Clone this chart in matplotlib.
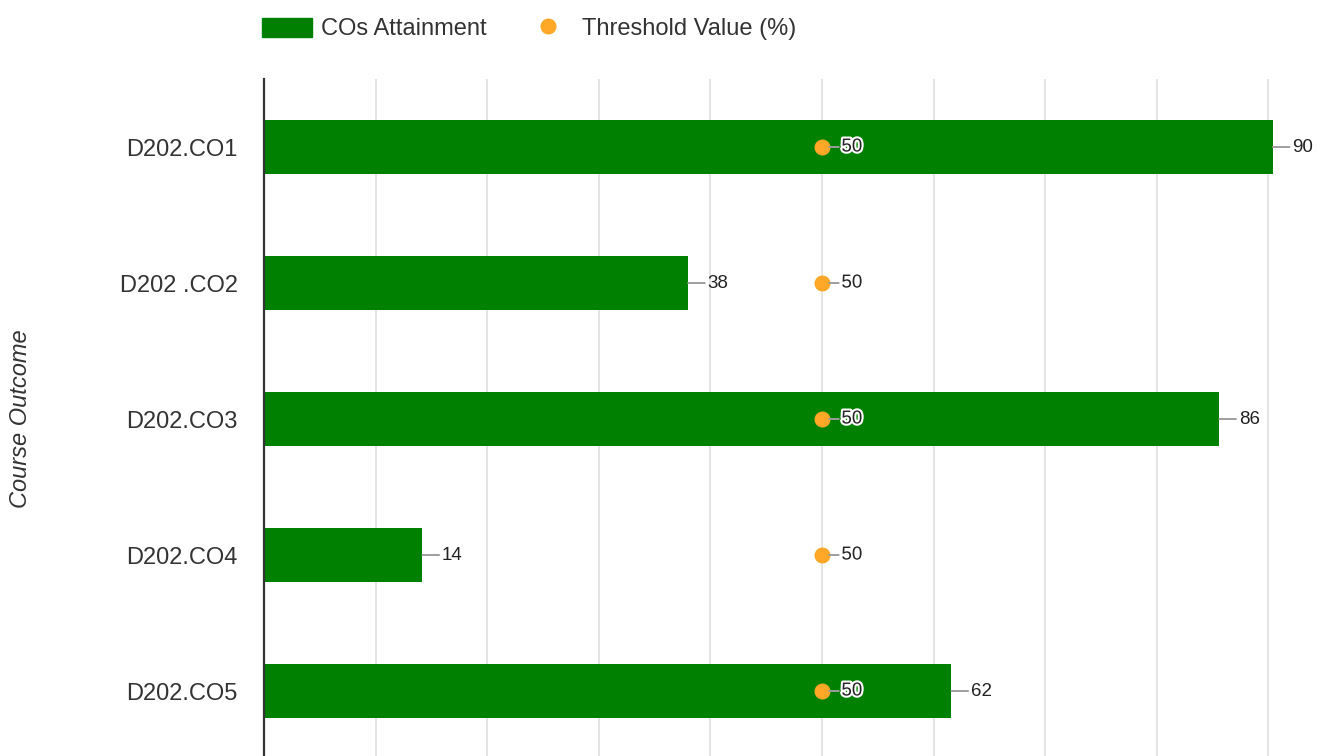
"""Horizontal bar chart of CO attainment against a threshold value."""

import matplotlib

matplotlib.use("Agg")
import matplotlib.pyplot as plt
import matplotlib.patheffects as pe
from matplotlib.lines import Line2D
from matplotlib.patches import Patch

categories = ["D202.CO1", "D202 .CO2", "D202.CO3", "D202.CO4", "D202.CO5"]
attainment = [90.4, 38.0, 85.6, 14.2, 61.6]
threshold = [50, 50, 50, 50, 50]
grid_ticks = [0, 10, 20, 30, 40, 50, 60, 70, 80, 90]

GREEN = "#008000"
ORANGE = "#ffa726"
LEADER = "#9e9e9e"

plt.rcParams["font.family"] = ["Liberation Sans", "DejaVu Sans"]


def main() -> None:
    W, H = 1318, 756
    fig = plt.figure(figsize=(W / 100, H / 100), dpi=100)
    ax = fig.add_axes([264 / W, (H - 759) / H, (W - 264) / W, 680 / H])

    y = list(range(len(categories)))
    ax.barh(y, attainment, height=0.40, color=GREEN, zorder=2)
    ax.plot(threshold, y, linestyle="none", marker="o", markersize=10.5,
            color=ORANGE, zorder=4)

    halo = [pe.withStroke(linewidth=3, foreground="white")]
    for i, (v, t) in enumerate(zip(attainment, threshold)):
        ax.annotate(f"{v:.0f}", xy=(v, i), xytext=(14, 0), textcoords="offset points",
                    ha="left", va="center", fontsize=13.5, color="#222222",
                    annotation_clip=False,
                    arrowprops=dict(arrowstyle="-", color=LEADER, lw=1.4,
                                    shrinkA=0, shrinkB=0, relpos=(0, 0.5)))
        ax.annotate(f"{t}", xy=(t, i), xytext=(14, 0), textcoords="offset points",
                    ha="left", va="center", fontsize=13.5, color="#222222",
                    path_effects=halo, zorder=5,
                    arrowprops=dict(arrowstyle="-", color=LEADER, lw=1.4,
                                    shrinkA=0, shrinkB=5, relpos=(0, 0.5)))

    ax.set_xlim(0, (W - 264) / 11.16)
    ax.set_ylim(len(categories) - 0.5, -0.5)
    ax.set_xticks(grid_ticks)
    ax.set_xticklabels([])
    ax.tick_params(axis="x", length=0)
    ax.set_yticks(y)
    ax.set_yticklabels(categories, fontsize=17, color="#333333")
    ax.tick_params(axis="y", length=0, pad=19)
    ax.grid(axis="x", color="#e4e4e4", linewidth=1.4, zorder=0)
    ax.set_axisbelow(True)

    for side in ("top", "right", "bottom"):
        ax.spines[side].set_visible(False)
    ax.spines["left"].set_color("#333333")
    ax.spines["left"].set_linewidth(1.6)
    ax.spines["left"].set_zorder(3)

    ax.set_ylabel("Course Outcome", fontsize=17, style="italic", color="#333333")
    ax.yaxis.set_label_coords((32 - 264) / (W - 264), 0.5)

    handles = [
        Patch(facecolor=GREEN, edgecolor=GREEN, label="COs Attainment"),
        Line2D([], [], linestyle="none", marker="o", markersize=10.5,
               color=ORANGE, label="Threshold Value (%)"),
    ]
    fig.legend(handles=handles, loc="center left", bbox_to_anchor=(262 / W, 1 - 29 / H),
               ncol=2, frameon=False, fontsize=17, handlelength=2.1,
               handleheight=0.9, handletextpad=0.4, columnspacing=1.55,
               borderpad=0, borderaxespad=0, labelcolor="#333333")

    fig.savefig("out.png", dpi=100)
    plt.close(fig)


if __name__ == "__main__":
    main()
